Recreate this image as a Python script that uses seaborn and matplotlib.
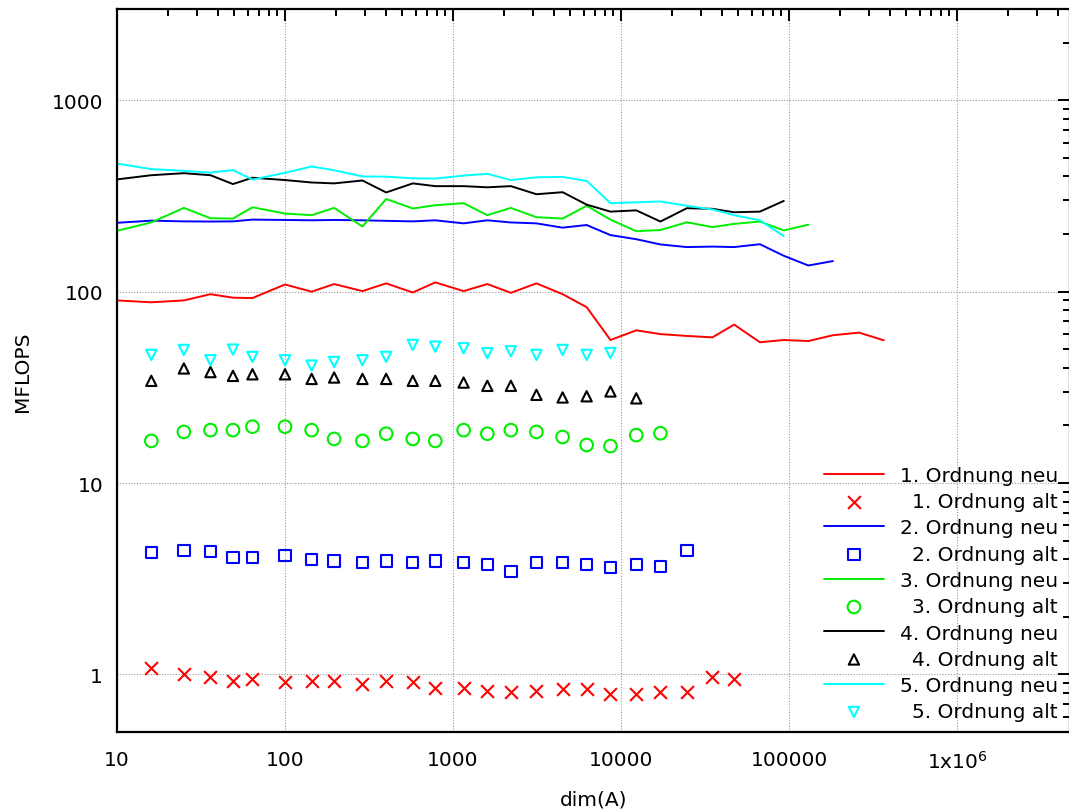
import numpy as np
import pandas as pd
import matplotlib
matplotlib.use('Agg')
import matplotlib.pyplot as plt
from matplotlib.ticker import FixedLocator, FixedFormatter, LogLocator, NullFormatter
import seaborn as sns

# dim(A) values used by the runs
dims = [10, 16, 25, 36, 49, 64, 100, 144, 196, 289, 400, 576, 784, 1156, 1600,
        2209, 3136, 4489, 6241, 8649, 12321, 17161, 24649, 34969, 47089, 67081,
        93025, 130321, 182329, 261121, 366025]

# "neu" (lines), start at dims[0]
neu_1 = [90, 88, 90, 97, 93, 92.6, 109, 100, 109.6, 100.7, 110.5, 99, 111.8, 100.7,
         109.6, 98.6, 110.5, 97, 83, 55.9, 62.8, 60, 58.7, 57.7, 67.3, 54.4, 55.9,
         55.2, 59.2, 61.1, 55.7]
neu_2 = [229, 235, 233, 232.5, 233, 238, 237, 236, 237, 236, 234.5, 233, 236, 227.5,
         236, 230, 227.5, 216, 223, 197.5, 188, 176.5, 171, 172, 171, 177, 154, 137,
         144.5]
neu_3 = [208, 230, 274, 242, 241, 276, 256, 251, 274, 219, 305, 272, 283, 290, 251,
         274, 245, 241, 281, 238, 207, 210, 230.5, 217.4, 226, 232.5, 209, 224]
neu_4 = [386, 406, 416, 406, 365, 394, 383, 372, 368, 381, 330, 368, 356, 356, 351,
         356, 323, 331, 285, 262, 266, 232.5, 273, 271, 260, 262, 298]
neu_5 = [467, 437, 428, 419, 432, 385, 418, 451, 431, 400, 399, 391, 390, 404, 413,
         383, 396, 398, 379, 290, 293, 296, 281, 269, 251, 236, 195]

# "alt" (points), start at dims[1]
alt_1 = [1.075, 1.01, 0.965, 0.923, 0.95, 0.91, 0.927, 0.927, 0.895, 0.927, 0.912,
         0.85, 0.85, 0.818, 0.805, 0.822, 0.835, 0.835, 0.79, 0.786, 0.805, 0.805,
         0.965, 0.95]
alt_2 = [4.35, 4.43, 4.37, 4.07, 4.07, 4.17, 3.99, 3.92, 3.84, 3.92, 3.84, 3.92,
         3.83, 3.75, 3.46, 3.84, 3.84, 3.76, 3.62, 3.76, 3.67, 4.45]
alt_3 = [16.6, 18.5, 18.9, 18.9, 19.7, 19.7, 18.9, 17.0, 16.6, 18.1, 17.0, 16.6,
         18.9, 18.1, 18.9, 18.5, 17.4, 15.8, 15.6, 17.8, 18.2]
alt_4 = [34.2, 39.7, 38.0, 36.3, 37.0, 37.0, 35.0, 35.6, 35.0, 35.0, 34.2, 34.2,
         33.5, 32.2, 32.2, 28.9, 28.0, 28.4, 30.1, 27.7]
alt_5 = [46.7, 49.6, 43.8, 49.8, 45.6, 43.8, 41.1, 42.9, 43.8, 45.6, 52.7, 51.6,
         50.6, 47.7, 48.8, 46.7, 49.6, 46.7, 47.8]

colors = ['#ff0000', '#0000ff', '#00ee00', '#000000', '#00ffff']
markers = ['x', 's', 'o', '^', 'v']
sizes = [85, 66, 82, 55, 55]

xticks = [10, 100, 1000, 10000, 100000, 1000000]
xticklabels = ['10', '100', '1000', '10000', '100000', r'1x10$^6$']
yticks = [1, 10, 100, 1000]
yticklabels = ['1', '10', '100', '1000']

sns.set_style('white')
plt.rcParams['font.family'] = ['DejaVu Sans']
plt.rcParams['mathtext.fontset'] = 'dejavusans'
plt.rcParams.update({'text.color': 'black', 'axes.labelcolor': 'black',
                     'xtick.color': 'black', 'ytick.color': 'black'})
FS = 14.5

W, H = 1069, 812
fig = plt.figure(figsize=(W / 100, H / 100), dpi=100)
ax = fig.add_axes([117 / W, 1 - 733 / H, (1070 - 117) / W, (733 - 10) / H])

neus = [neu_1, neu_2, neu_3, neu_4, neu_5]
alts = [alt_1, alt_2, alt_3, alt_4, alt_5]
for i in range(5):
    n = neus[i]
    a = alts[i]
    sns.lineplot(x=dims[:len(n)], y=n, color=colors[i], linewidth=1.4, ax=ax,
                 label=f'{i + 1}. Ordnung neu')
    if markers[i] == 'x':
        sns.scatterplot(x=dims[1:len(a) + 1], y=a, marker='x', color=colors[i],
                        s=sizes[i], linewidth=1.5, ax=ax, label=f'{i + 1}. Ordnung alt')
    else:
        sns.scatterplot(x=dims[1:len(a) + 1], y=a, marker=markers[i], facecolor='none',
                        edgecolor=colors[i], s=sizes[i], linewidth=1.5, ax=ax,
                        label=f'{i + 1}. Ordnung alt')

ax.set_xscale('log')
ax.set_yscale('log')
ax.set_xlim(10, 4.7e6)
ax.set_ylim(0.5, 3000)

ax.xaxis.set_major_locator(FixedLocator(xticks))
ax.xaxis.set_major_formatter(FixedFormatter(xticklabels))
ax.yaxis.set_major_locator(FixedLocator(yticks))
ax.yaxis.set_major_formatter(FixedFormatter(yticklabels))
ax.xaxis.set_minor_locator(LogLocator(base=10, subs=np.arange(2, 10), numticks=20))
ax.yaxis.set_minor_locator(LogLocator(base=10, subs=np.arange(2, 10), numticks=20))
ax.xaxis.set_minor_formatter(NullFormatter())
ax.yaxis.set_minor_formatter(NullFormatter())

ax.tick_params(which='both', direction='in', top=True, right=True, width=1.4,
               color='black', labelcolor='black')
ax.tick_params(which='major', length=8.5)
ax.tick_params(which='minor', length=4.8)
ax.tick_params(axis='x', which='major', pad=13, labelsize=FS)
ax.tick_params(axis='y', which='major', pad=10, labelsize=FS)

for sp in ax.spines.values():
    sp.set_linewidth(1.6)
    sp.set_color('black')

ax.grid(True, which='major', color='#9a9a9a', linestyle=(0, (1, 1.5)), linewidth=0.8)
ax.set_axisbelow(True)

ax.set_xlabel('dim(A)', fontsize=FS, color='black')
ax.set_ylabel('MFLOPS', fontsize=FS, color='black')
ax.xaxis.label.set_va('center')
ax.yaxis.label.set_va('center')
ax.xaxis.set_label_coords(0.5, -(800 - 733) / 723)
ax.yaxis.set_label_coords((23 - 117) / 953, 0.5)

leg = ax.legend(loc='upper right', bbox_to_anchor=(1058 / W, 1 - 467 / H),
                bbox_transform=fig.transFigure, frameon=False, fontsize=FS,
                handlelength=2.95, handletextpad=0.8, labelspacing=0.36,
                borderpad=0, borderaxespad=0, labelcolor='black')

# right-align the legend labels like the original
fig.canvas.draw()
r = fig.canvas.get_renderer()
widths = [t.get_window_extent(r).width for t in leg.get_texts()]
mw = max(widths)
for t, w in zip(leg.get_texts(), widths):
    t.set_position((mw - w, 0))

fig.savefig('out.png', dpi=100)
